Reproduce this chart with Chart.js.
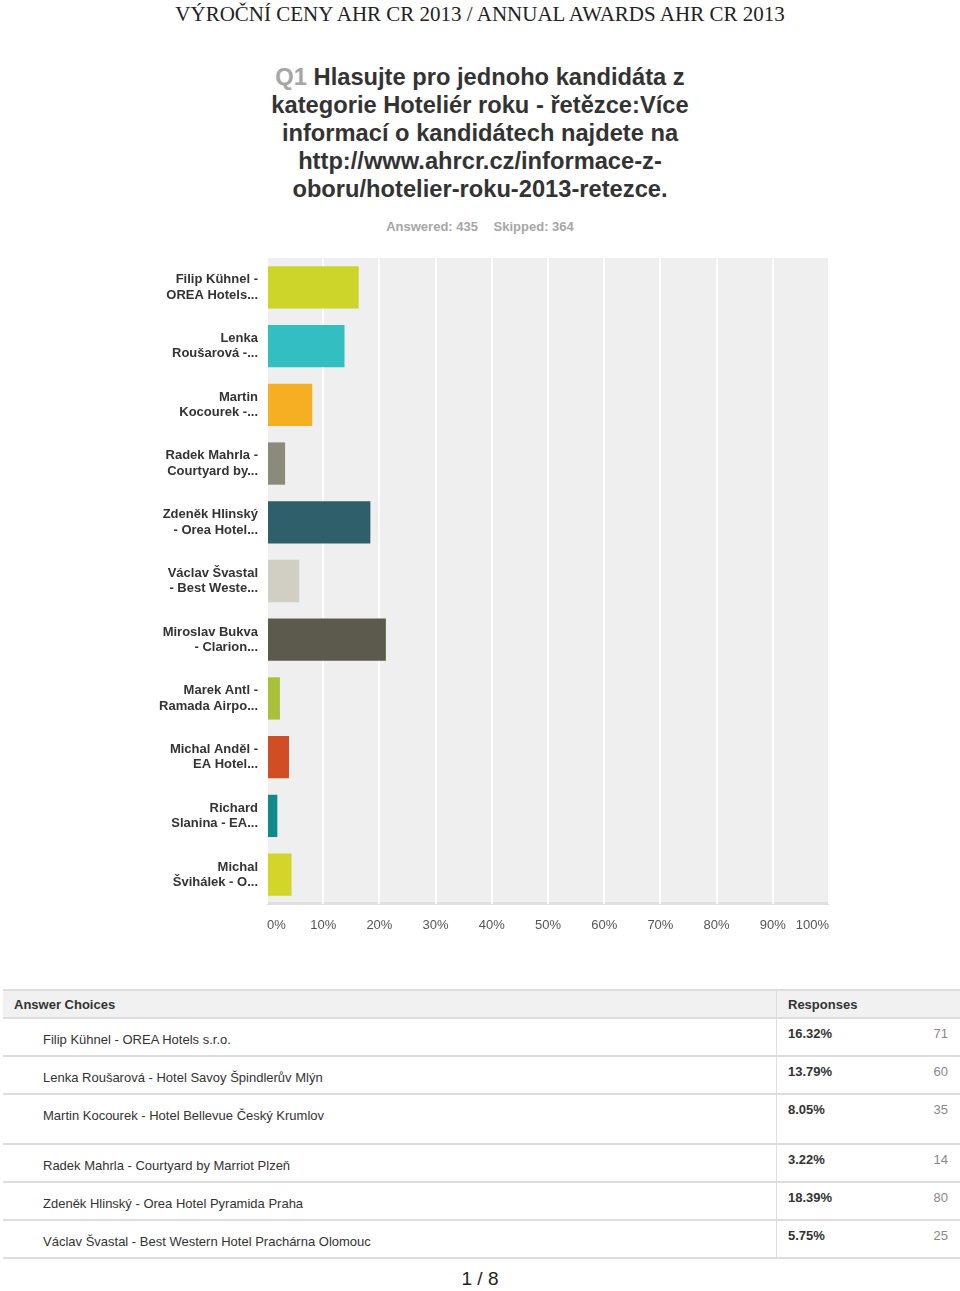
<!DOCTYPE html>
<html>
<head>
<meta charset="utf-8">
<script src="https://cdn.jsdelivr.net/npm/chart.js@4/dist/chart.umd.min.js"></script>
<style>
body { margin: 0; width: 960px; height: 1291px; background: #fff; position: relative; font-family: "Liberation Sans", Arial, sans-serif; overflow: hidden; }
.top { position: absolute; top: 2px; left: 0; width: 960px; text-align: center; font-family: "Liberation Serif", "Times New Roman", serif; font-size: 21px; color: #222; }
.q { position: absolute; top: 63px; left: 250px; width: 460px; text-align: center; font-size: 23.7px; line-height: 28px; font-weight: bold; color: #333; }
.q span { color: #a6a6a6; }
.stats { position: absolute; top: 219px; left: 0; width: 960px; text-align: center; font-size: 13px; font-weight: bold; color: #a6a6a6; }
.stats b { margin-left: 12px; }
#wrap { position: absolute; left: 150px; top: 250px; width: 690px; height: 700px; }
table { position: absolute; left: 3px; top: 989px; width: 957px; border-collapse: collapse; font-size: 13px; color: #333; }
th { background: #f1f1f1; text-align: left; font-weight: bold; height: 26px; padding: 0 11px; border-top: 2px solid #ddd; border-bottom: 2px solid #ddd; }
td { border-bottom: 2px solid #ddd; height: 36px; padding: 0; vertical-align: top; }
td div { position: relative; }
td.lbl div { padding-left: 40px; top: 13px; }
td.pct { border-left: 1px solid #ddd; font-weight: bold; width: 131px; }
td.pct div { padding-left: 11px; top: 7px; }
td.cnt div { top: 7px; }
td.cnt { text-align: right; padding-right: 12px; color: #888; width: 40px; }
tr.tall td { height: 48px; }
.page { position: absolute; top: 1268px; left: 0; width: 960px; text-align: center; font-size: 19px; color: #222; }
</style>
</head>
<body>
<div class="top">VÝROČNÍ CENY AHR CR 2013 / ANNUAL AWARDS AHR CR 2013</div>
<div class="q"><span>Q1</span> Hlasujte pro jednoho kandidáta z kategorie Hoteliér roku - řetězce:Více informací o kandidátech najdete na http://www.ahrcr.cz/informace-z-oboru/hotelier-roku-2013-retezce.</div>
<div class="stats">Answered: 435 <b>Skipped: 364</b></div>
<div id="wrap"><canvas id="chart"></canvas></div>
<table id="tbl">
<tr><th>Answer Choices</th><th colspan="2" style="border-left:1px solid #ddd">Responses</th></tr>
</table>
<div class="page">1 / 8</div>
<script>
var labels = [
    ['Filip Kühnel -', 'OREA Hotels...'],
    ['Lenka', 'Roušarová -...'],
    ['Martin', 'Kocourek -...'],
    ['Radek Mahrla -', 'Courtyard by...'],
    ['Zdeněk Hlinský', '- Orea Hotel...'],
    ['Václav Švastal', '- Best Weste...'],
    ['Miroslav Bukva', '- Clarion...'],
    ['Marek Antl -', 'Ramada Airpo...'],
    ['Michal Anděl -', 'EA Hotel...'],
    ['Richard', 'Slanina - EA...'],
    ['Michal', 'Švihálek - O...']
];
var values = [16.32, 13.79, 8.05, 3.22, 18.39, 5.75, 21.15, 2.30, 3.91, 1.84, 4.37];
var colors = ['#cdd42a', '#33bec1', '#f6ae22', '#8b8b7c', '#2e5f6b', '#d1cfc3', '#5c5a4c', '#a8c03a', '#d14d23', '#0f8b8d', '#d3d52a'];
var xTicks = [0, 10, 20, 30, 40, 50, 60, 70, 80, 90, 100];

// table rows (first page of the table)
var tableNames = ['Filip Kühnel - OREA Hotels s.r.o.', 'Lenka Roušarová - Hotel Savoy Špindlerův Mlýn', 'Martin Kocourek - Hotel Bellevue Český Krumlov',
    'Radek Mahrla - Courtyard by Marriot Plzeň', 'Zdeněk Hlinský - Orea Hotel Pyramida Praha', 'Václav Švastal - Best Western Hotel Prachárna Olomouc'];
var tablePct = ['16.32%', '13.79%', '8.05%', '3.22%', '18.39%', '5.75%'];
var tableCnt = [71, 60, 35, 14, 80, 25];

var tbl = document.getElementById('tbl');
tableNames.forEach(function (name, i) {
    var tr = document.createElement('tr');
    if (i == 2) tr.className = 'tall';
    tr.innerHTML = '<td class="lbl"><div>' + name + '</div></td><td class="pct"><div>' + tablePct[i] + '</div></td><td class="cnt"><div>' + tableCnt[i] + '</div></td>';
    tbl.appendChild(tr);
});

var plotBg = {
    id: 'plotBg',
    beforeDraw: function (chart) {
        var a = chart.chartArea, c = chart.ctx;
        c.save();
        c.fillStyle = '#efefef';
        c.fillRect(a.left, a.top, a.right - a.left, a.bottom - a.top);
        c.fillStyle = '#dadada';
        c.fillRect(a.left - 1, a.top, 1.5, a.bottom - a.top);
        c.fillStyle = '#e0e0e0';
        c.fillRect(a.left, a.bottom - 2, a.right - a.left, 3);
        c.restore();
    }
};

var ctx = document.getElementById('chart').getContext('2d');
var myChart = new Chart(ctx, {
    type: 'bar',
    data: {
        labels: labels,
        datasets: [{
            data: values,
            backgroundColor: colors,
            borderWidth: 0,
            barPercentage: 0.72,
            categoryPercentage: 1
        }]
    },
    plugins: [plotBg],
    options: {
        indexAxis: 'y',
        responsive: true,
        maintainAspectRatio: false,
        animation: false,
        layout: { padding: { top: 8, right: 11, left: 0, bottom: 0 } },
        plugins: {
            legend: { display: false },
            tooltip: { enabled: false }
        },
        scales: {
            x: {
                min: 0,
                max: 100,
                afterBuildTicks: function (scale) {
                    scale.ticks = xTicks.map(function (v) { return { value: v }; });
                },
                afterFit: function (scale) {
                    scale.height = 46;
                    scale.paddingLeft = 0;
                    scale.paddingRight = 0;
                },
                border: { display: false },
                grid: { color: '#ffffff', lineWidth: 2, drawTicks: false },
                ticks: {
                    align: 'inner',
                    padding: 14,
                    color: '#555',
                    font: { family: '"Liberation Sans", Arial, sans-serif', size: 13 },
                    callback: function (v) { return v + '%'; }
                }
            },
            y: {
                afterFit: function (scale) {
                    scale.width = 117;
                    scale.paddingTop = 0;
                    scale.paddingBottom = 0;
                },
                border: { display: false },
                grid: { display: false, drawTicks: false },
                ticks: {
                    padding: 9,
                    color: '#333',
                    font: { family: '"Liberation Sans", Arial, sans-serif', size: 13, weight: 'bold', lineHeight: 1.18 }
                }
            }
        }
    }
});
</script>
</body>
</html>
